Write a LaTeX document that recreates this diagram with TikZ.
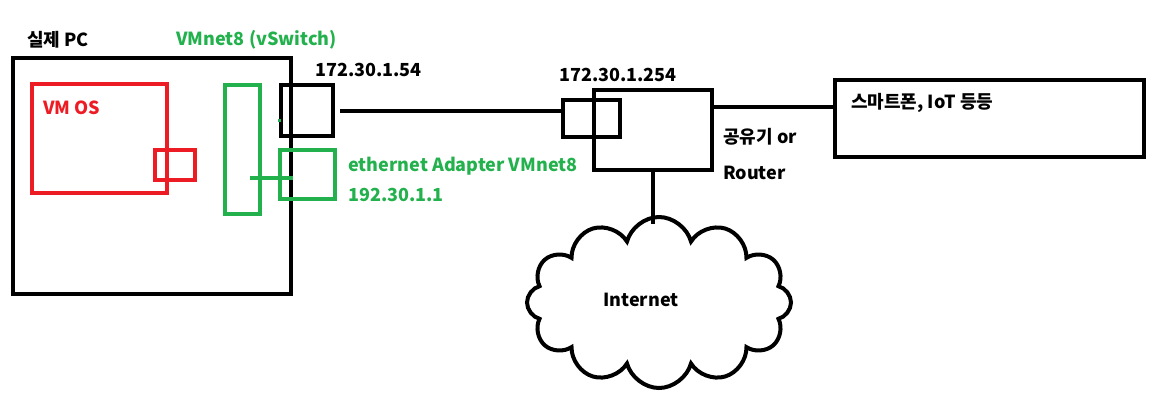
\documentclass[tikz,border=0pt]{standalone}
\usepackage{fontspec}
\setmainfont{Noto Sans CJK KR}[BoldFont={Noto Sans CJK KR Black}]
\usetikzlibrary{shapes.symbols,calc}
\definecolor{pred}{RGB}{237,28,36}
\definecolor{pgreen}{RGB}{34,177,76}
\begin{document}
\begin{tikzpicture}[x=1pt,y=-1pt,
  box/.style={draw,line width=4pt,rectangle,inner sep=0pt},
  lbl/.style={anchor=west,inner sep=0pt,font=\fontsize{18}{21}\selectfont\bfseries},
  wire/.style={line width=4pt}]
\useasboundingbox (0,0) rectangle (1165,405);
% boxes
\node[box,minimum width=278pt,minimum height=236pt] (pc) at (152,176) {};
\node[box,pred,minimum width=135pt,minimum height=109pt] (vm) at (99.5,138.5) {};
\node[box,pred,minimum width=40pt,minimum height=30pt] (vmport) at (175,165) {};
\node[box,pgreen,minimum width=35pt,minimum height=129pt] (vswitch) at (242.5,149.5) {};
\node[box,minimum width=52pt,minimum height=51pt] (pcport) at (307,110.5) {};
\node[box,pgreen,minimum width=55pt,minimum height=49pt] (ethport) at (307.5,174.5) {};
\node[box,minimum width=57pt,minimum height=37pt] (rport) at (591.5,118.5) {};
\node[box,minimum width=118pt,minimum height=80pt] (router) at (653,130) {};
\node[box,minimum width=309pt,minimum height=77pt] (phone) at (989.5,118.5) {};
\node[cloud,draw,line width=4pt,cloud puffs=12,aspect=1.6,inner sep=0pt,
      minimum width=264pt,minimum height=171pt] (cloud) at (659,302.5) {};
% labels
\node[lbl] (pclbl) at (27,40) {실제 PC};
\node[lbl,pgreen] (vslbl) at (176,40) {VMnet8 (vSwitch)};
\node[lbl,pred] (vmlbl) at (43,108) {VM OS};
\node[lbl] (ip1) at (315,70) {172.30.1.54};
\node[lbl] (ip2) at (559,75) {172.30.1.254};
\node[lbl,pgreen] (ethlbl) at (348,166) {ethernet Adapter VMnet8};
\node[lbl,pgreen] (ethip) at (348,195) {192.30.1.1};
\node[lbl] (phlbl) at (851,103) {스마트폰, IoT 등등};
\node[lbl] (rl1) at (723,137) {공유기 or};
\node[lbl] (rl2) at (723,173) {Router};
\node[lbl,anchor=center] (inet) at (641,300) {Internet};
% connectors
\coordinate (gs) at (250,178);
\coordinate (ge) at (293,178);
\draw[wire,pgreen] (gs) -- (ge);
\coordinate (t1) at (278,120);
\coordinate (t2) at (281,120);
\draw[line width=3pt,pgreen] (t1) -- (t2);
\coordinate (l1) at ($(pcport.east)+(5,0)$);
\draw[wire] (l1) -- (l1 -| rport.west);
\coordinate (l2) at ($(router.north east)+(0,19)$);
\draw[wire] (l2) -- (l2 -| phone.west);
\coordinate (ctop) at (653,224);
\draw[wire] (router.south) -- (ctop);
\end{tikzpicture}
\end{document}
